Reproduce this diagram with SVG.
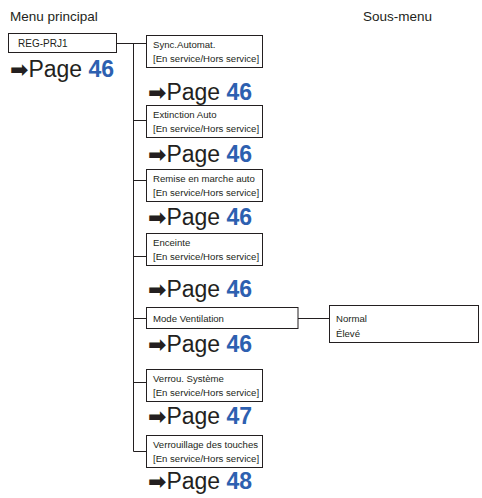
<svg xmlns="http://www.w3.org/2000/svg" width="482" height="498" viewBox="0 0 482 498">
<style>
text{font-family:"Liberation Sans",Arial,sans-serif;fill:#231f20}
.hd{font-size:13.5px}
.bx{fill:#fff;stroke:#231f20;stroke-width:1}
.t{font-size:9.6px}
.pg{font-size:23px}
.ar{font-family:"DejaVu Sans",sans-serif;font-size:22px;font-weight:bold}
.n{font-weight:bold;fill:#2d60b0}
.c{fill:none;stroke:#231f20;stroke-width:1}
</style>
<rect width="482" height="498" fill="#fff"/>
<text class="hd" x="10" y="21">Menu principal</text>
<text class="hd" x="363" y="21">Sous-menu</text>
<g id="connectors">
<path class="c" d="M117 43.5H146M133.5 43.5V451.5H146M133.5 120.5H146M133.5 180.5H146M133.5 256.5H146M133.5 318.5H146M133.5 382.5H146M298 318.5H329"/>
</g>
<g id="main">
<rect class="bx" x="8.5" y="33.5" width="108" height="19"/>
<text class="t" x="18" y="47" style="font-size:10px">REG-PRJ1</text>
<text x="10" y="77"><tspan class="ar">➡</tspan><tspan class="pg">Page </tspan><tspan class="pg n">46</tspan></text>
</g>
<g id="sync">
<rect class="bx" x="146.5" y="35.5" width="116" height="32"/>
<text class="t" x="153" y="48">Sync.Automat.</text>
<text class="t" x="153" y="62">[En service/Hors service]</text>
<text x="148" y="100"><tspan class="ar">➡</tspan><tspan class="pg">Page </tspan><tspan class="pg n">46</tspan></text>
</g>
<g id="extinction">
<rect class="bx" x="146.5" y="105.5" width="116" height="32"/>
<text class="t" x="153" y="118">Extinction Auto</text>
<text class="t" x="153" y="132">[En service/Hors service]</text>
<text x="148" y="162"><tspan class="ar">➡</tspan><tspan class="pg">Page </tspan><tspan class="pg n">46</tspan></text>
</g>
<g id="remise">
<rect class="bx" x="146.5" y="169.5" width="116" height="32"/>
<text class="t" x="153" y="182">Remise en marche auto</text>
<text class="t" x="153" y="196">[En service/Hors service]</text>
<text x="148" y="225"><tspan class="ar">➡</tspan><tspan class="pg">Page </tspan><tspan class="pg n">46</tspan></text>
</g>
<g id="enceinte">
<rect class="bx" x="146.5" y="233.5" width="116" height="32"/>
<text class="t" x="153" y="246">Enceinte</text>
<text class="t" x="153" y="260">[En service/Hors service]</text>
<text x="148" y="297"><tspan class="ar">➡</tspan><tspan class="pg">Page </tspan><tspan class="pg n">46</tspan></text>
</g>
<g id="mode">
<rect class="bx" x="146.5" y="307.5" width="151.5" height="21"/>
<text class="t" x="153" y="322">Mode Ventilation</text>
<text x="148" y="352"><tspan class="ar">➡</tspan><tspan class="pg">Page </tspan><tspan class="pg n">46</tspan></text>
</g>
<g id="mode-sub">
<rect class="bx" x="329.5" y="305.5" width="149" height="37"/>
<text class="t" x="336" y="322">Normal</text>
<text class="t" x="336" y="337">Élevé</text>
</g>
<g id="verrou">
<rect class="bx" x="146.5" y="369.5" width="116" height="32"/>
<text class="t" x="153" y="382">Verrou. Système</text>
<text class="t" x="153" y="396">[En service/Hors service]</text>
<text x="148" y="424"><tspan class="ar">➡</tspan><tspan class="pg">Page </tspan><tspan class="pg n">47</tspan></text>
</g>
<g id="verrouillage">
<rect class="bx" x="146.5" y="435.5" width="116" height="32"/>
<text class="t" x="153" y="448">Verrouillage des touches</text>
<text class="t" x="153" y="462">[En service/Hors service]</text>
<text x="148" y="489"><tspan class="ar">➡</tspan><tspan class="pg">Page </tspan><tspan class="pg n">48</tspan></text>
</g>
</svg>
